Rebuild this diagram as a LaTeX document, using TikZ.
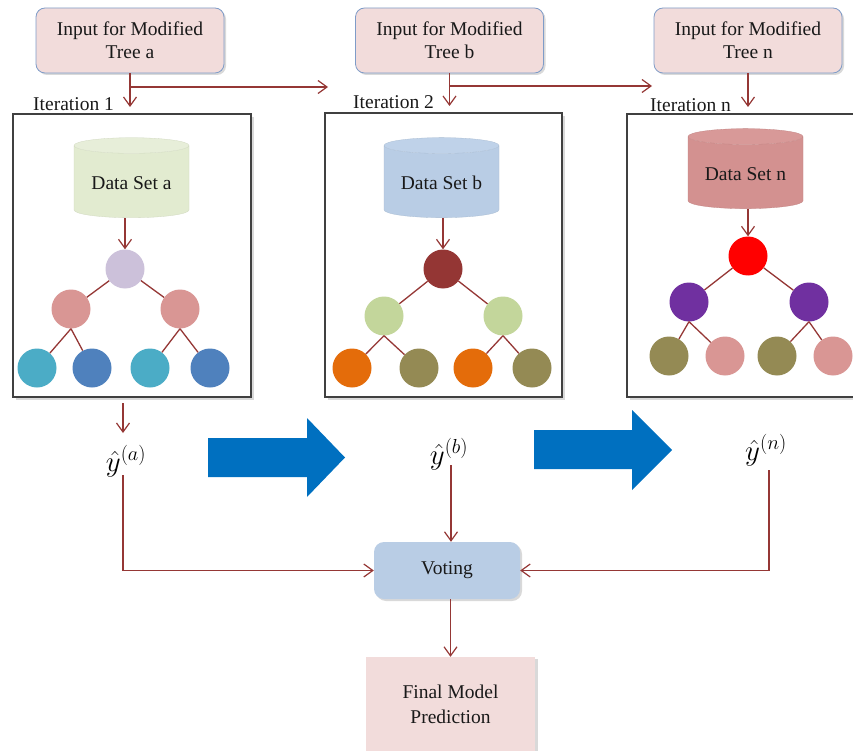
\RequirePackage{fix-cm}
\documentclass[tikz,border=0pt]{standalone}
\usepackage{fontspec}
\setmainfont{Liberation Serif}
\usepackage{amsmath}
\usetikzlibrary{arrows.meta,positioning,shapes.geometric,shadows}

\definecolor{boxpink}{HTML}{F2DCDB}
\definecolor{boxedge}{HTML}{7F9CC8}
\definecolor{linkred}{HTML}{953735}
\definecolor{bigblue}{HTML}{0070C0}
\definecolor{voteblue}{HTML}{B9CDE5}
\definecolor{dsgreen}{HTML}{E2EBD0}
\definecolor{dsgreentop}{HTML}{E7EED9}
\definecolor{dsblue}{HTML}{B9CDE5}
\definecolor{dsbluetop}{HTML}{BFD2E9}
\definecolor{dsrose}{HTML}{D39190}
\definecolor{dsrosetop}{HTML}{D89998}
\definecolor{lavender}{HTML}{CCC1DA}
\definecolor{rose}{HTML}{D99694}
\definecolor{teal}{HTML}{4BACC6}
\definecolor{steel}{HTML}{4F81BD}
\definecolor{darkred}{HTML}{943634}
\definecolor{lightgreen}{HTML}{C3D69B}
\definecolor{orange}{HTML}{E46C0A}
\definecolor{olive}{HTML}{948A54}
\definecolor{purple}{HTML}{7030A0}

\begin{document}
\begin{tikzpicture}[x=1pt, y=-1pt,
    txt/.style={font=\fontsize{19.5}{23}\selectfont, text=black!90},
    inbox/.style={rectangle, rounded corners=9pt, draw=boxedge, line width=0.8pt, fill=boxpink,
        minimum width=188pt, minimum height=65pt, align=center, txt,
        drop shadow={shadow xshift=2pt, shadow yshift=-2pt, opacity=0.3}},
    itbox/.style={rectangle, draw=black!75, line width=1.1pt, fill=white,
        drop shadow={shadow xshift=3pt, shadow yshift=-3pt, opacity=0.3}},
    dset/.style={cylinder, shape border rotate=90, aspect=0.18, minimum width=115pt,
        minimum height=80pt, cylinder uses custom fill, txt, draw=#1!92!black, line width=0.3pt},
    tnode/.style={circle, fill=#1, minimum size=39pt, inner sep=0pt},
    yhat/.style={inner sep=0pt, font=\fontsize{29}{34}\selectfont},
    label/.style={anchor=west, inner sep=0pt, txt},
    edge/.style={draw=linkred, line width=1.3pt},
    arr/.style={edge, -{Straight Barb[length=9pt, width=13pt, line width=1.2pt]}},
    bigarrow/.style={fill=bigblue}
]
\useasboundingbox (0,0) rectangle (853,751);
\clip (0,0) rectangle (853,751);

% inputs
\node[inbox] (ina) at (130,40.5) {Input for Modified\\Tree a};
\node[inbox] (inb) at (449.5,40.5) {Input for Modified\\Tree b};
\node[inbox] (inn) at (748,40.5) {Input for Modified\\Tree n};

\coordinate (ta) at (ina.south |- 0,107);
\coordinate (tb) at (inb.south |- 0,106);
\coordinate (tn) at (inn.south |- 0,107);
\coordinate (ha) at (ina.south |- 0,87);
\coordinate (hb) at (328,87);
\coordinate (hc) at (inb.south |- 0,86);
\coordinate (hd) at (652,86);
\draw[arr] (ina.south) -- (ta);
\draw[arr] (inb.south) -- (tb);
\draw[arr] (inn.south) -- (tn);
\draw[arr] (ha) -- (hb);
\draw[arr] (hc) -- (hd);

\node[label] (lab1) at (33,104) {Iteration 1};
\node[label] (lab2) at (353,102) {Iteration 2};
\node[label] (labn) at (650,105) {Iteration n};

% iteration frames
\node[itbox, minimum width=238pt, minimum height=283pt] (it1) at (132,255.5) {};
\node[itbox, minimum width=237pt, minimum height=284pt] (it2) at (443.5,255) {};
\node[itbox, minimum width=233pt, minimum height=283pt] (itn) at (743.5,255.5) {};

% data sets
\node[dset=dsgreen, cylinder body fill=dsgreen, cylinder end fill=dsgreentop] (dsa) at (131.5,183) {Data Set a};
\node[dset=dsblue, cylinder body fill=dsblue, cylinder end fill=dsbluetop] (dsb) at (441.5,183) {Data Set b};
\node[dset=dsrose, cylinder body fill=dsrose, cylinder end fill=dsrosetop] (dsn) at (745.5,174) {Data Set n};

% tree a
\node[tnode=lavender] (ra) at (125,269) {};
\node[tnode=rose] (ra1) at (71,309) {};
\node[tnode=rose] (ra2) at (180,309) {};
\node[tnode=teal] (la1) at (37,368) {};
\node[tnode=steel] (la2) at (92,368) {};
\node[tnode=teal] (la3) at (150,368) {};
\node[tnode=steel] (la4) at (210,368) {};

% tree b
\node[tnode=darkred] (rb) at (443,269) {};
\node[tnode=lightgreen] (rb1) at (384,316) {};
\node[tnode=lightgreen] (rb2) at (503,316) {};
\node[tnode=orange] (lb1) at (352,368) {};
\node[tnode=olive] (lb2) at (419,368) {};
\node[tnode=orange] (lb3) at (473,368) {};
\node[tnode=olive] (lb4) at (532,368) {};

% tree n
\node[tnode=red] (rn) at (748,256) {};
\node[tnode=purple] (rn1) at (689,302) {};
\node[tnode=purple] (rn2) at (809,302) {};
\node[tnode=olive] (ln1) at (669,356) {};
\node[tnode=rose] (ln2) at (725,356) {};
\node[tnode=olive] (ln3) at (777,356) {};
\node[tnode=rose] (ln4) at (833,356) {};

\draw[arr] (ra |- dsa.south) -- (ra);
\draw[arr] (rb |- dsb.south) -- (rb);
\draw[arr] (rn |- dsn.south) -- (rn);

\draw[edge] (ra) -- (ra1);
\draw[edge] (ra) -- (ra2);
\draw[edge] (ra1.south) -- (la1);
\draw[edge] (ra1.south) -- (la2);
\draw[edge] (ra2.south) -- (la3);
\draw[edge] (ra2.south) -- (la4);
\draw[edge] (rb) -- (rb1);
\draw[edge] (rb) -- (rb2);
\draw[edge] (rb1.south) -- (lb1);
\draw[edge] (rb1.south) -- (lb2);
\draw[edge] (rb2.south) -- (lb3);
\draw[edge] (rb2.south) -- (lb4);
\draw[edge] (rn) -- (rn1);
\draw[edge] (rn) -- (rn2);
\draw[edge] (rn1.south) -- (ln1);
\draw[edge] (rn1.south) -- (ln2);
\draw[edge] (rn2.south) -- (ln3);
\draw[edge] (rn2.south) -- (ln4);

% predictions
\node[yhat] (ya) at (126,461) {$\hat{y}^{(a)}$};
\node[yhat] (yb) at (449,454) {$\hat{y}^{(b)}$};
\node[yhat] (yn) at (766,450) {$\hat{y}^{(n)}$};

\coordinate (oa) at (123,403);
\coordinate (ob) at (123,433);
\draw[arr] (oa) -- (ob);

\fill[bigarrow] (208,438) -- (307,438) -- (307,418) -- (345,457.5) -- (307,497) -- (307,477) -- (208,477) -- cycle;
\fill[bigarrow] (534,430) -- (632,430) -- (632,410) -- (672,450) -- (632,490) -- (632,469) -- (534,469) -- cycle;

% voting
\node[rectangle, rounded corners=10pt, fill=voteblue, minimum width=146pt, minimum height=57pt, txt,
    drop shadow={shadow xshift=2pt, shadow yshift=-2pt, opacity=0.3}] (vote) at (447,570.5) {Voting};
\node[rectangle, fill=boxpink, minimum width=169pt, minimum height=94pt, align=center,
    font=\fontsize{19.5}{25}\selectfont, text=black!90,
    drop shadow={shadow xshift=3pt, shadow yshift=-2pt, opacity=0.3}] (final) at (450.5,704) {Final Model\\Prediction};

\coordinate (fa) at (123,475);
\coordinate (fb) at (451,465);
\coordinate (fn) at (769,470);
\draw[arr] (fa) |- (vote.west);
\draw[arr] (fb) -- (vote.north -| fb);
\draw[arr] (fn) |- (vote.east);
\draw[arr] (vote.south -| final) -- (final);
\end{tikzpicture}
\end{document}
